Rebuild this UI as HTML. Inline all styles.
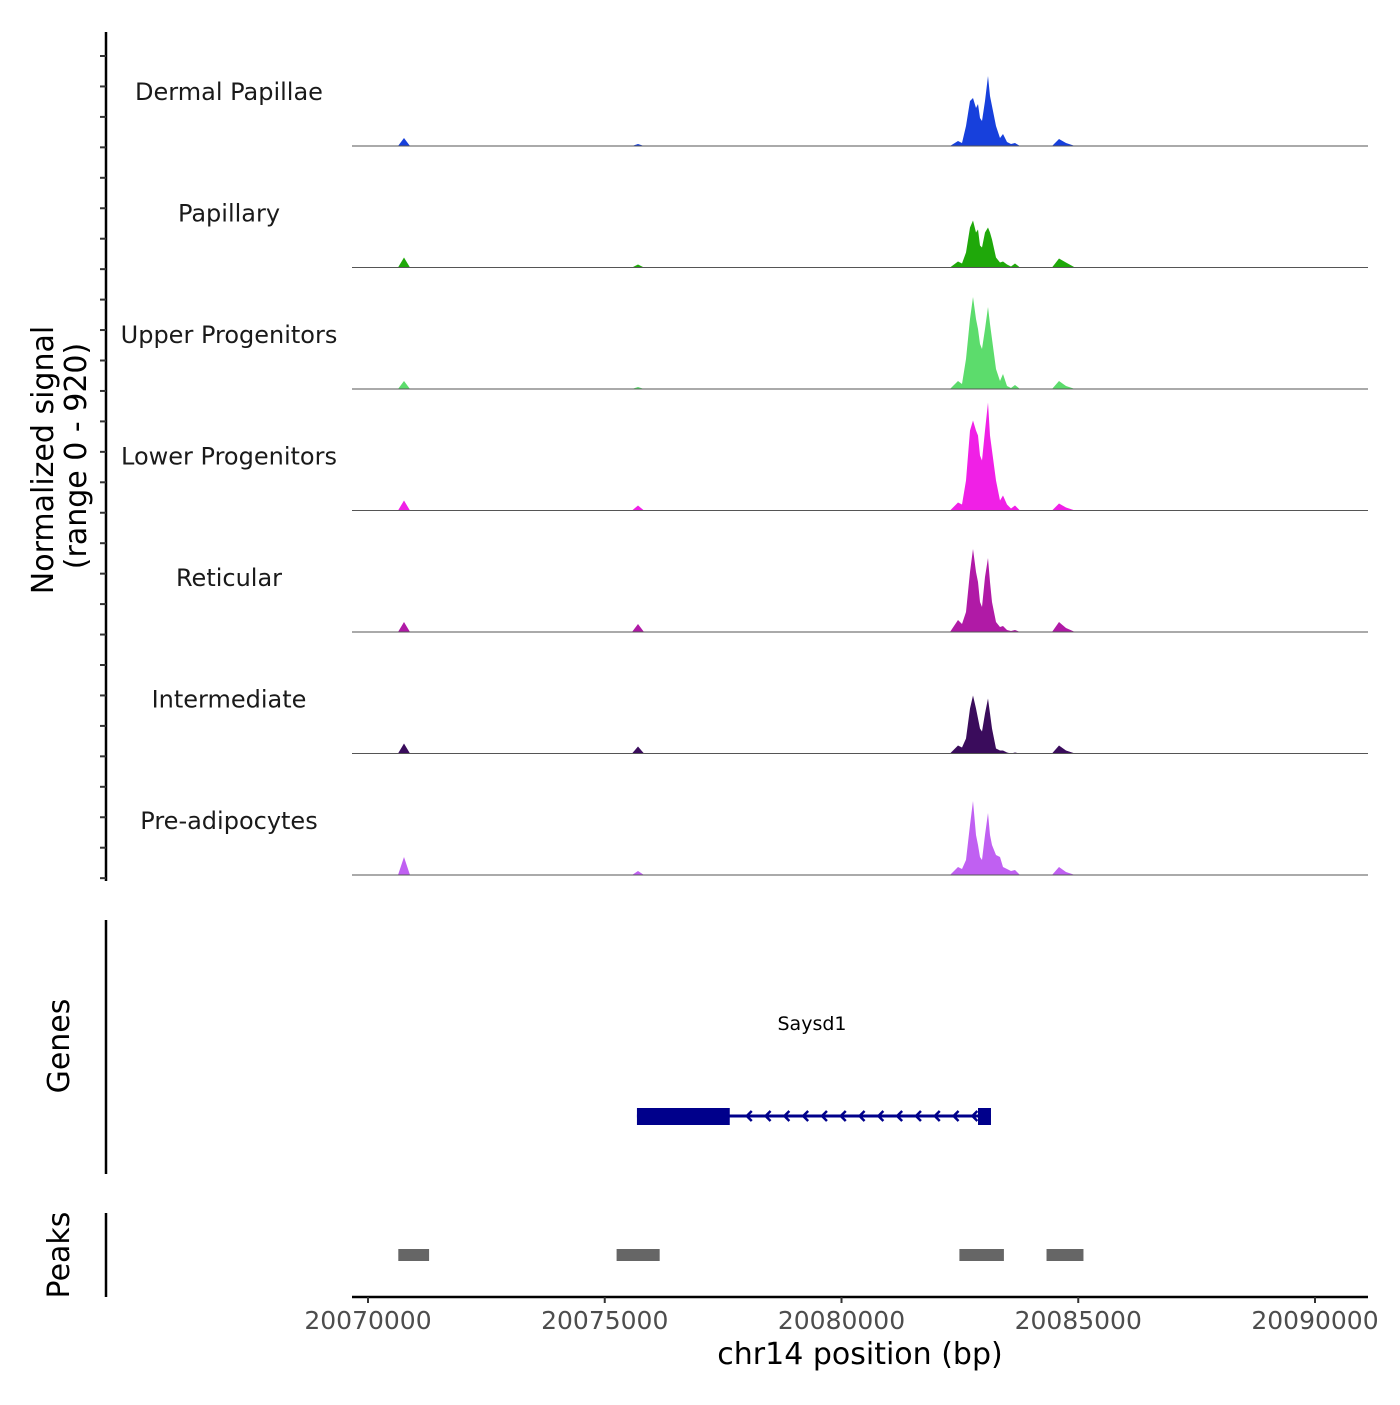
<!DOCTYPE html>
<html><head><meta charset="utf-8"><style>
body{margin:0;background:#fff}
svg{font-family:"DejaVu Sans","Liberation Sans",sans-serif}
</style></head><body>
<svg id="chart" width="1400" height="1400" viewBox="0 0 1400 1400" xmlns="http://www.w3.org/2000/svg">
<g id="tracks"></g>
<g id="axes"></g>
<text x="53" y="460" transform="rotate(-90 53 460)" text-anchor="middle" font-size="30" fill="#000">Normalized signal</text>
<text x="86" y="456" transform="rotate(-90 86 456)" text-anchor="middle" font-size="30" fill="#000">(range 0 - 920)</text>
<text x="69" y="1046" transform="rotate(-90 69 1046)" text-anchor="middle" font-size="30" fill="#000">Genes</text>
<text x="69" y="1255" transform="rotate(-90 69 1255)" text-anchor="middle" font-size="30" fill="#000">Peaks</text>
<text x="860" y="1364" text-anchor="middle" font-size="30" fill="#000">chr14 position (bp)</text>
<text x="812" y="1030" text-anchor="middle" font-size="19" fill="#000">Saysd1</text>
<g id="gene"></g>
<g id="peaks"></g>
</svg>
<script>
const positions=[20069660,20070634,20070760,20070887,20075576,20075702,20075829,20082292,20082461,20082545,20082630,20082714,20082778,20082841,20082883,20082925,20082968,20083031,20083094,20083137,20083179,20083263,20083348,20083411,20083496,20083580,20083665,20083770,20084446,20084594,20084742,20084932,20091120];
const trackNames=["Dermal Papillae","Papillary","Upper Progenitors","Lower Progenitors","Reticular","Intermediate","Pre-adipocytes"];
const trackColors=["#1740dc","#1fa80a","#5cdc6c","#f020e6","#b01aa6","#3a0c5c","#c060f2"];
const sigDP=[0,0,64,0,0,16,0,0,40,24,160,360,384,304,336,224,200,360,560,400,320,160,64,96,32,16,24,0,0,56,24,0,0];
const sigPap=[0,0,80,0,0,24,0,0,48,32,120,320,376,280,304,176,160,280,320,280,224,80,40,48,24,8,32,0,0,72,40,0,0];
const sigUp=[0,0,64,0,0,16,0,0,64,40,240,560,736,560,480,360,320,480,656,520,400,160,64,120,24,8,32,0,0,64,24,0,0];
const sigLow=[0,0,80,0,0,40,0,0,64,48,240,640,720,640,600,440,400,640,864,600,480,240,80,120,48,16,40,0,0,56,24,0,0];
const sigRet=[0,0,80,0,0,64,0,0,96,64,160,480,664,480,400,240,200,440,592,400,240,80,40,48,16,8,16,0,0,80,32,0,0];
const sigInt=[0,0,80,0,0,56,0,0,64,48,120,360,464,360,280,200,176,320,440,320,200,40,24,24,8,0,8,0,0,64,24,0,0];
const sigPre=[0,0,144,0,0,32,0,0,64,48,120,400,592,320,240,144,120,320,496,320,240,160,144,64,48,32,40,0,0,64,24,0,0];
const signals=[sigDP,sigPap,sigUp,sigLow,sigRet,sigInt,sigPre];
const xTicks=[20070000,20075000,20080000,20085000,20090000];
const geneExonStart=[20075680,20082883];
const geneExonEnd=[20077640,20083157];
const geneStart=20075680, geneEnd=20083157;
const peakStarts=[20070640,20075250,20082490,20084330];
const peakEnds=[20071290,20076160,20083430,20085110];
const yMax=920;

const NS="http://www.w3.org/2000/svg";
const X0=352,X1=1368;
function xs(bp){return 368+(bp-20070000)*947/20000;}
function mk(tag,attrs,parent){const e=document.createElementNS(NS,tag);for(const k in attrs)e.setAttribute(k,attrs[k]);parent.appendChild(e);return e;}
const tracks=document.getElementById('tracks');
const base0=146,step=121.5,hPx=115;
function ys(v,b){return b-v/yMax*hPx;}
signals.forEach((s,i)=>{
  const b=base0+i*step;
  let d=`M${X0},${b}`;
  s.forEach((v,j)=>{d+=` L${Math.max(X0,Math.min(X1,xs(positions[j]))).toFixed(1)},${ys(v,b).toFixed(1)}`;});
  d+=` L${X1},${b} Z`;
  const p=mk('path',{d:d,fill:trackColors[i],stroke:'none'},tracks);
  
  
  const l=mk('line',{x1:X0,x2:X1,y1:b,y2:b,stroke:'#555','stroke-width':1},tracks);
  
  
  const t=mk('text',{x:229,y:b-46,'text-anchor':'middle','font-size':24,fill:'#1a1a1a'},tracks);
  t.textContent=trackNames[i];
  
  
});
const axes=document.getElementById('axes');
mk('line',{x1:106,x2:106,y1:32,y2:881,stroke:'#000','stroke-width':2.5},axes);
for(let y=56;y<=880;y+=30.45){mk('line',{x1:100,x2:106,y1:y,y2:y,stroke:'#333','stroke-width':2},axes);}
mk('line',{x1:106,x2:106,y1:920,y2:1174,stroke:'#000','stroke-width':2.5},axes);
mk('line',{x1:106,x2:106,y1:1213,y2:1297,stroke:'#000','stroke-width':2.5},axes);
mk('line',{x1:X0,x2:X1,y1:1297,y2:1297,stroke:'#000','stroke-width':2.5},axes);
xTicks.forEach(t=>{
  const x=xs(t);
  mk('line',{x1:x,x2:x,y1:1297,y2:1303,stroke:'#333','stroke-width':2},axes);
  const tx=mk('text',{x:x,y:1329,'text-anchor':'middle','font-size':25,fill:'#4d4d4d'},axes);
  tx.textContent=t;
  
  
});
const gene=document.getElementById('gene');
const gc='#00008b';
mk('line',{x1:xs(geneStart),x2:xs(geneEnd),y1:1116,y2:1116,stroke:gc,'stroke-width':3},gene);
geneExonStart.forEach((s,i)=>{
  const r=mk('rect',{x:xs(s),y:1108,width:xs(geneExonEnd[i])-xs(s),height:17,fill:gc},gene);
  
  
});
for(let x=xs(geneExonEnd[0])+18;x<xs(geneExonStart[1]);x+=18.8){
  mk('path',{d:`M${x+4},1111 L${x-1},1116 L${x+4},1121`,fill:'none',stroke:gc,'stroke-width':2.5},gene);
}
const peaks=document.getElementById('peaks');
peakStarts.forEach((s,i)=>{
  const r=mk('rect',{x:xs(s),y:1249,width:xs(peakEnds[i])-xs(s),height:12,fill:'#666'},peaks);
  
  
});
</script>
</body></html>
